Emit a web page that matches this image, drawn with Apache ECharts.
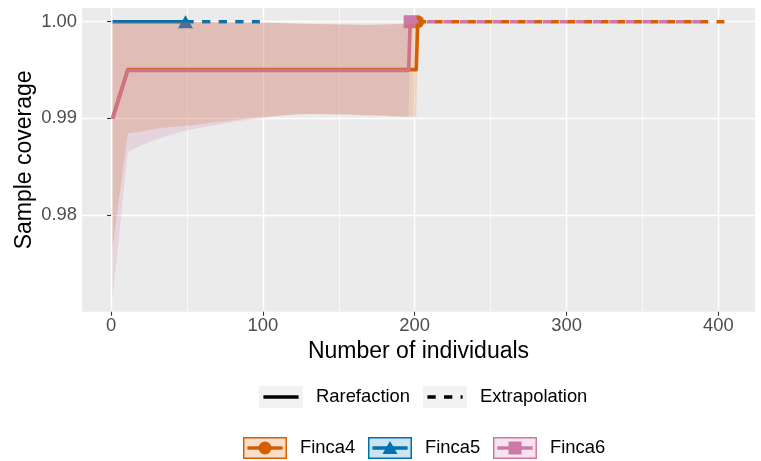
<!DOCTYPE html>
<html>
<head>
<meta charset="utf-8">
<script src="https://cdn.jsdelivr.net/npm/echarts@6/dist/echarts.min.js"></script>
<style>
  html, body { margin: 0; padding: 0; background: #ffffff; }
  #chart { width: 761px; height: 461px; }
</style>
</head>
<body>
<div id="chart"></div>
<script>
// Sample-size-based coverage curves (rarefaction + extrapolation) with 95% bands.

// Finca4: rarefaction knots, coverage and confidence band
const finca4X   = [1, 11, 22, 32, 42, 53, 63, 73, 84, 94, 104, 115, 125, 135, 146, 156, 166, 177, 187, 197, 201, 202];
const finca4Cov = [0.99005, 0.99505, 0.99505, 0.99505, 0.99505, 0.99505, 0.99505, 0.99505, 0.99505, 0.99505, 0.99505,
                   0.99505, 0.99505, 0.99505, 0.99505, 0.99505, 0.99505, 0.99505, 0.99505, 0.99505, 0.99505, 1.0];
const finca4Lo  = [0.9766, 0.98846, 0.9887, 0.9890, 0.98915, 0.9893, 0.9895, 0.9897, 0.9899, 0.99005, 0.9902,
                   0.99035, 0.99045, 0.99045, 0.9904, 0.9904, 0.9903, 0.9903, 0.9902, 0.9902, 0.9902, 1.0];
const finca4Hi  = [1.0, 0.99995, 0.99995, 0.99995, 0.99995, 0.99995, 0.99995, 0.99995, 0.99993, 0.99992, 0.9999,
                   0.99985, 0.9998, 0.99976, 0.99974, 0.99972, 0.9997, 0.9997, 0.99975, 0.9998, 0.9998, 1.0];
const finca4ExtX   = [202, 404];
const finca4ExtCov = [1.0, 1.0];

// Finca5: complete coverage throughout
const finca5X      = [1, 49];
const finca5Cov    = [1.0, 1.0];
const finca5ExtX   = [49, 98];
const finca5ExtCov = [1.0, 1.0];

// Finca6: rarefaction knots, coverage and confidence band
const finca6X   = [1, 11, 21, 31, 41, 51, 61, 72, 82, 92, 102, 112, 122, 132, 142, 152, 162, 172, 182, 192, 196, 197];
const finca6Cov = [0.98995, 0.99495, 0.99495, 0.99495, 0.99495, 0.99495, 0.99495, 0.99495, 0.99495, 0.99495, 0.99495,
                   0.99495, 0.99495, 0.99495, 0.99495, 0.99495, 0.99495, 0.99495, 0.99495, 0.99495, 0.99495, 1.0];
const finca6Lo  = [0.97156, 0.98656, 0.9873, 0.9879, 0.9884, 0.9888, 0.9891, 0.9894, 0.9897, 0.9899, 0.9901,
                   0.99025, 0.9904, 0.99045, 0.99045, 0.9904, 0.9904, 0.9903, 0.9903, 0.9902, 0.9902, 1.0];
const finca6Hi  = [1.0, 0.99995, 0.99995, 0.99995, 0.99995, 0.99995, 0.99995, 0.99995, 0.99993, 0.99992, 0.9999,
                   0.99985, 0.9998, 0.99976, 0.99974, 0.99972, 0.9997, 0.9997, 0.99975, 0.9998, 0.9998, 1.0];
const finca6ExtX   = [197, 394];
const finca6ExtCov = [1.0, 1.0];

// Observed sample sizes (reference points)
const siteNames   = ['Finca4', 'Finca5', 'Finca6'];
const observedN   = [202, 49, 197];
const observedCov = [1.0, 1.0, 1.0];

// Axis ticks
const xTicks      = [0, 100, 200, 300, 400];
const xMinorTicks = [50, 150, 250, 350];
const yTicks      = [0.98, 0.99, 1.00];
const yMinorTicks = [0.975, 0.985, 0.995];

const methodNames = ['Rarefaction', 'Extrapolation'];

const COLORS  = ['#D55E00', '#0072B2', '#CC79A7'];
const SYMBOLS = ['circle', 'triangle', 'rect'];
const SYMBOL_SIZES = [13, [15, 13], 13];
const FONT = '"Liberation Sans", Arial, Helvetica, sans-serif';
const DASH = [8.3, 8.3];

function rgba(hex, a) {
  const n = parseInt(hex.slice(1), 16);
  return 'rgba(' + ((n >> 16) & 255) + ',' + ((n >> 8) & 255) + ',' + (n & 255) + ',' + a + ')';
}
function pairs(xs, ys) { return xs.map((x, i) => [x, ys[i]]); }

function lineSeries(name, xs, ys, color, dashed) {
  return {
    type: 'line', name: name, data: pairs(xs, ys), z: 2,
    showSymbol: false, silent: true, smooth: false,
    lineStyle: { color: color, width: 3.6, type: dashed ? DASH : 'solid', cap: 'butt', join: 'round' }
  };
}

function bandSeries(name, xs, lo, hi, color) {
  return {
    type: 'custom', name: name, z: 3, silent: true, clip: true,
    data: xs.map((x, i) => [x, lo[i], hi[i]]),
    encode: { x: 0, y: [1, 2] },
    renderItem: function (params, api) {
      if (params.dataIndex !== 0) return null;
      const pts = [];
      for (let i = 0; i < xs.length; i++) pts.push(api.coord([xs[i], hi[i]]));
      for (let i = xs.length - 1; i >= 0; i--) pts.push(api.coord([xs[i], lo[i]]));
      return { type: 'polygon', shape: { points: pts }, style: { fill: rgba(color, 0.2), stroke: null } };
    }
  };
}

function gridLines() {
  const major = { color: '#FFFFFF', width: 1.4, type: 'solid' };
  const minor = { color: '#FFFFFF', width: 0.7, type: 'solid' };
  const data = []
    .concat(xMinorTicks.map(v => ({ xAxis: v, lineStyle: minor })))
    .concat(yMinorTicks.map(v => ({ yAxis: v, lineStyle: minor })))
    .concat(xTicks.map(v => ({ xAxis: v, lineStyle: major })))
    .concat(yTicks.map(v => ({ yAxis: v, lineStyle: major })));
  return {
    type: 'line', name: 'grid', data: [], z: 0, silent: true,
    markLine: { z: 0, silent: true, animation: false, symbol: ['none', 'none'], label: { show: false }, data: data }
  };
}

const series = [gridLines()];

// Observed points (beneath lines and bands)
siteNames.forEach((s, i) => {
  series.push({
    type: 'scatter', name: s + ' observed', z: 1, silent: true,
    data: [[observedN[i], observedCov[i]]],
    symbol: SYMBOLS[i], symbolSize: SYMBOL_SIZES[i],
    itemStyle: { color: COLORS[i], opacity: 1 }
  });
});

// Curves
series.push(lineSeries('Finca4 rarefaction', finca4X, finca4Cov, COLORS[0], false));
series.push(lineSeries('Finca5 rarefaction', finca5X, finca5Cov, COLORS[1], false));
series.push(lineSeries('Finca6 rarefaction', finca6X, finca6Cov, COLORS[2], false));
series.push(lineSeries('Finca4 extrapolation', finca4ExtX, finca4ExtCov, COLORS[0], true));
series.push(lineSeries('Finca5 extrapolation', finca5ExtX, finca5ExtCov, COLORS[1], true));
series.push(lineSeries('Finca6 extrapolation', finca6ExtX, finca6ExtCov, COLORS[2], true));

// Confidence bands drawn on top with transparency
series.push(bandSeries('Finca4 band', finca4X, finca4Lo, finca4Hi, COLORS[0]));
series.push(bandSeries('Finca6 band', finca6X, finca6Lo, finca6Hi, COLORS[2]));

// Legend built from graphic elements
const legendGraphics = [];
const keyW = 44, keyH = 22;
// method row
const row1Y = 397;
const methodKeyX = [259, 423];
const methodTextX = [316, 480];
methodNames.forEach((m, i) => {
  const x0 = methodKeyX[i];
  legendGraphics.push({ type: 'rect', shape: { x: x0, y: row1Y - keyH / 2, width: keyW, height: keyH }, style: { fill: '#F2F2F2' }, silent: true });
  legendGraphics.push({
    type: 'line', shape: { x1: x0 + 4.4, y1: row1Y, x2: x0 + keyW - 4.4, y2: row1Y },
    style: { stroke: '#000000', lineWidth: 3.6, lineDash: i === 1 ? DASH : null, lineCap: 'butt' }, silent: true
  });
  legendGraphics.push({
    type: 'text', x: methodTextX[i], y: row1Y, silent: true,
    style: { text: m, fill: '#000000', fontSize: 18.4, fontFamily: FONT, align: 'left', verticalAlign: 'middle' }
  });
});
// site row
const row2Y = 448;
const siteKeyX = [243, 368, 493];
const siteTextX = [300, 425, 550];
siteNames.forEach((s, i) => {
  const x0 = siteKeyX[i];
  const cx = x0 + keyW / 2;
  legendGraphics.push({
    type: 'rect', shape: { x: x0 + 0.75, y: row2Y - keyH / 2 + 0.75, width: keyW - 1.5, height: keyH - 1.5 },
    style: { fill: rgba(COLORS[i], 0.2), stroke: COLORS[i], lineWidth: 1.5 }, silent: true
  });
  legendGraphics.push({
    type: 'line', shape: { x1: x0 + 4.4, y1: row2Y, x2: x0 + keyW - 4.4, y2: row2Y },
    style: { stroke: COLORS[i], lineWidth: 3.6, lineCap: 'butt' }, silent: true
  });
  if (i === 0) {
    legendGraphics.push({ type: 'circle', shape: { cx: cx, cy: row2Y, r: 6.5 }, style: { fill: COLORS[i] }, silent: true });
  } else if (i === 1) {
    legendGraphics.push({ type: 'polygon', shape: { points: [[cx, row2Y - 7], [cx + 7.5, row2Y + 6], [cx - 7.5, row2Y + 6]] }, style: { fill: COLORS[i] }, silent: true });
  } else {
    legendGraphics.push({ type: 'rect', shape: { x: cx - 6.5, y: row2Y - 6.5, width: 13, height: 13 }, style: { fill: COLORS[i] }, silent: true });
  }
  legendGraphics.push({
    type: 'text', x: siteTextX[i], y: row2Y, silent: true,
    style: { text: s, fill: '#000000', fontSize: 18.4, fontFamily: FONT, align: 'left', verticalAlign: 'middle' }
  });
});

const chart = echarts.init(document.getElementById('chart'), null, { renderer: 'canvas' });
chart.setOption({
  animation: false,
  backgroundColor: '#FFFFFF',
  textStyle: { fontFamily: FONT },
  grid: { left: 82, right: 6, top: 8, bottom: 149.3, show: true, backgroundColor: '#EBEBEB', borderWidth: 0, containLabel: false },
  xAxis: {
    type: 'value', min: -19.15, max: 424.15,
    name: 'Number of individuals', nameLocation: 'middle', nameGap: 28, nameMoveOverlap: false,
    nameTextStyle: { fontSize: 23, color: '#000000', fontFamily: FONT },
    axisLine: { show: false },
    splitLine: { show: false },
    axisTick: { show: true, length: 4, lineStyle: { color: '#333333', width: 1.1 }, customValues: xTicks },
    axisLabel: { show: true, fontSize: 18.4, color: '#4D4D4D', margin: 5, customValues: xTicks, fontFamily: FONT,
                 formatter: v => String(v) }
  },
  yAxis: {
    type: 'value', min: 0.97001, max: 1.00142,
    name: 'Sample coverage', nameLocation: 'middle', nameGap: 46, nameMoveOverlap: false,
    nameTextStyle: { fontSize: 23, color: '#000000', fontFamily: FONT },
    axisLine: { show: false },
    splitLine: { show: false },
    axisTick: { show: true, length: 4, lineStyle: { color: '#333333', width: 1.1 }, customValues: yTicks },
    axisLabel: { show: true, fontSize: 18.4, color: '#4D4D4D', margin: 5, customValues: yTicks, fontFamily: FONT,
                 formatter: v => Number(v).toFixed(2) }
  },
  series: series,
  graphic: legendGraphics
});
</script>
</body>
</html>
